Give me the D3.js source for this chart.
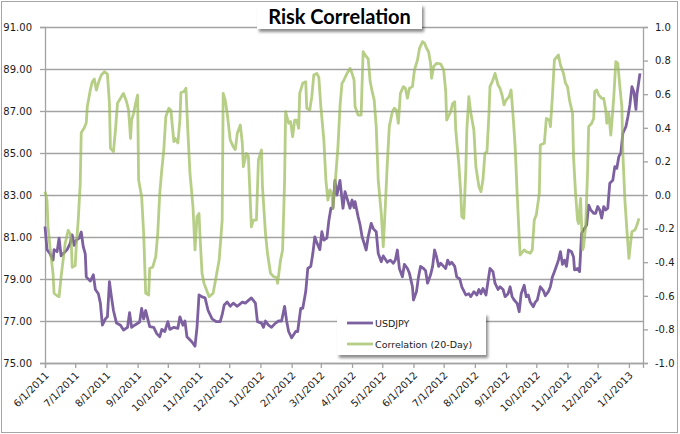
<!DOCTYPE html>
<html><head><meta charset="utf-8">
<script src="https://cdn.jsdelivr.net/npm/d3@7"></script>
<style>html,body{margin:0;padding:0;background:#fff}svg{display:block}</style>
</head><body>
<svg id="chart" width="680" height="434"></svg>
<script>
const title = "Risk Correlation";
const seriesNames = ["USDJPY", "Correlation (20-Day)"];
const xStart = "2011-06-01", xEnd = "2013-01-15";
const leftTicks = [75, 77, 79, 81, 83, 85, 87, 89, 91];
const rightTicks = [-1.0, -0.8, -0.6, -0.4, -0.2, 0.0, 0.2, 0.4, 0.6, 0.8, 1.0];

const usdDates = [
"2011-06-01","2011-06-03","2011-06-06","2011-06-09","2011-06-10","2011-06-13","2011-06-15","2011-06-17","2011-06-19","2011-06-23","2011-06-26","2011-06-28","2011-06-30",
"2011-07-02","2011-07-05","2011-07-07","2011-07-09","2011-07-11","2011-07-12","2011-07-16","2011-07-19","2011-07-21","2011-07-24","2011-07-26","2011-07-28","2011-07-31",
"2011-08-02","2011-08-04","2011-08-06","2011-08-08","2011-08-11","2011-08-15","2011-08-18","2011-08-22","2011-08-24","2011-08-26","2011-08-29",
"2011-09-03","2011-09-05","2011-09-07","2011-09-09","2011-09-13","2011-09-17","2011-09-20","2011-09-23","2011-09-25","2011-09-28",
"2011-10-01","2011-10-03","2011-10-07","2011-10-11","2011-10-13","2011-10-16","2011-10-18","2011-10-20","2011-10-25","2011-10-28","2011-10-30",
"2011-11-01","2011-11-04","2011-11-07","2011-11-10","2011-11-14","2011-11-18","2011-11-22","2011-11-24","2011-11-26","2011-11-29",
"2011-12-02","2011-12-05","2011-12-09","2011-12-14","2011-12-17","2011-12-23","2011-12-27","2011-12-29",
"2012-01-02","2012-01-04","2012-01-06","2012-01-09","2012-01-12","2012-01-16","2012-01-19","2012-01-22","2012-01-25","2012-01-27","2012-01-29",
"2012-02-01","2012-02-05","2012-02-07","2012-02-10","2012-02-12","2012-02-15","2012-02-17","2012-02-20","2012-02-22","2012-02-24","2012-02-26","2012-02-29",
"2012-03-02","2012-03-04","2012-03-07","2012-03-09","2012-03-11","2012-03-13","2012-03-15","2012-03-17","2012-03-20","2012-03-23","2012-03-25","2012-03-28","2012-03-30",
"2012-04-01","2012-04-03","2012-04-04","2012-04-07","2012-04-09","2012-04-11","2012-04-13","2012-04-15","2012-04-17","2012-04-20","2012-04-22","2012-04-25","2012-04-27","2012-04-30",
"2012-05-02","2012-05-06","2012-05-09","2012-05-12","2012-05-14","2012-05-16","2012-05-18","2012-05-21","2012-05-23","2012-05-26","2012-05-28","2012-05-31",
"2012-06-01","2012-06-04","2012-06-06","2012-06-08","2012-06-11","2012-06-13","2012-06-15","2012-06-18","2012-06-20","2012-06-22","2012-06-24","2012-06-26","2012-06-28",
"2012-07-01","2012-07-03","2012-07-05","2012-07-07","2012-07-09","2012-07-12","2012-07-14","2012-07-17","2012-07-19","2012-07-23","2012-07-26","2012-07-28","2012-07-31",
"2012-08-03","2012-08-05","2012-08-07","2012-08-09","2012-08-12","2012-08-14","2012-08-16","2012-08-19","2012-08-21","2012-08-24","2012-08-26","2012-08-29","2012-08-31",
"2012-09-03","2012-09-05","2012-09-07","2012-09-09","2012-09-12","2012-09-14","2012-09-16","2012-09-19","2012-09-21","2012-09-23","2012-09-25","2012-09-28","2012-09-30",
"2012-10-02","2012-10-05","2012-10-08","2012-10-10","2012-10-13","2012-10-15","2012-10-17","2012-10-19","2012-10-22","2012-10-23","2012-10-25","2012-10-27","2012-10-29","2012-10-31",
"2012-11-02","2012-11-05","2012-11-07","2012-11-08","2012-11-11","2012-11-13","2012-11-15","2012-11-17","2012-11-20","2012-11-22","2012-11-24","2012-11-27","2012-11-29",
"2012-12-01","2012-12-03","2012-12-05","2012-12-07","2012-12-09","2012-12-11","2012-12-13","2012-12-16","2012-12-18","2012-12-20","2012-12-22","2012-12-24","2012-12-26","2012-12-29","2012-12-31",
"2013-01-02","2013-01-04","2013-01-06","2013-01-08","2013-01-09","2013-01-12"];
const usdjpy = [
81.5,80.4,80.2,79.9,80.4,80.3,80.95,80.1,80.2,80.4,80.7,81.1,80.6,
80.85,80.95,81.24,80.54,80.2,79.1,78.9,79.2,78.5,78.3,77.85,76.8,77.1,
77.2,78.87,78.15,77.5,76.9,76.8,76.57,76.7,77.4,76.7,76.8,
76.95,77.6,77.1,77.5,76.73,76.7,76.4,76.25,76.6,76.5,
76.97,76.6,76.7,76.65,77.2,76.8,77.0,76.25,76.0,75.8,76.7,
78.24,78.15,78.1,77.5,77.1,76.97,76.97,77.3,77.76,77.9,
77.7,77.85,77.7,77.9,77.85,78.1,77.85,76.97,
76.9,76.7,77.0,76.8,76.7,76.9,77.0,77.0,77.7,77.0,76.5,
76.2,76.5,76.5,77.6,77.6,78.4,79.5,79.6,80.2,81.0,80.73,80.4,
81.25,80.85,80.95,81.8,82.37,82.37,83.7,83.0,83.7,82.37,83.16,82.68,82.37,
82.76,82.4,82.68,81.97,81.57,81.0,80.7,80.38,81.0,81.65,81.4,81.25,80.22,79.82,
80.1,79.8,79.9,79.75,79.9,80.38,79.5,79.1,79.7,79.5,79.27,78.63,
78.0,78.4,79.1,79.6,79.5,79.4,78.8,79.2,79.6,80.38,80.05,79.6,79.75,
79.6,79.5,79.9,79.7,79.8,79.6,79.1,79.0,78.63,78.24,78.3,78.16,78.4,
78.24,78.5,78.3,78.55,78.24,78.87,79.5,79.35,78.8,78.5,78.63,78.5,78.16,
78.3,78.63,78.16,78.0,77.84,77.44,78.3,78.7,78.16,78.24,77.9,77.68,77.9,
78.0,78.63,78.45,78.2,78.4,78.63,79.1,79.35,79.75,79.9,80.3,79.7,79.9,79.6,
80.38,80.3,80.05,79.43,79.5,79.35,81.17,81.33,81.57,82.52,82.29,82.13,82.13,
82.45,82.29,81.9,82.45,82.29,82.37,83.56,83.7,84.35,84.27,84.83,85.0,85.94,86.25,86.73,
87.3,88.16,87.9,87.08,87.8,88.79];

const corrDates = [
"2011-06-01","2011-06-03","2011-06-04","2011-06-06","2011-06-09","2011-06-10","2011-06-13","2011-06-15","2011-06-17","2011-06-19","2011-06-21","2011-06-24","2011-06-26","2011-06-27","2011-06-28",
"2011-07-01","2011-07-02","2011-07-04","2011-07-06","2011-07-07","2011-07-10","2011-07-12","2011-07-13","2011-07-16","2011-07-18","2011-07-20","2011-07-22","2011-07-25","2011-07-27","2011-07-30",
"2011-08-02","2011-08-04","2011-08-05","2011-08-08","2011-08-10","2011-08-12","2011-08-15","2011-08-18","2011-08-21","2011-08-23","2011-08-25","2011-08-26","2011-08-28","2011-08-30",
"2011-09-01","2011-09-02","2011-09-05","2011-09-07","2011-09-09","2011-09-12","2011-09-13","2011-09-16","2011-09-19","2011-09-21","2011-09-23","2011-09-25","2011-09-27","2011-09-29",
"2011-10-02","2011-10-04","2011-10-07","2011-10-08","2011-10-11","2011-10-13","2011-10-14","2011-10-17","2011-10-19","2011-10-21","2011-10-23","2011-10-26","2011-10-28","2011-10-30",
"2011-11-01","2011-11-02","2011-11-04","2011-11-06","2011-11-09","2011-11-11","2011-11-15","2011-11-18","2011-11-21","2011-11-24","2011-11-25","2011-11-27","2011-11-29",
"2011-12-02","2011-12-05","2011-12-07","2011-12-09","2011-12-12","2011-12-14","2011-12-15","2011-12-18","2011-12-20","2011-12-23","2011-12-25","2011-12-28","2011-12-30",
"2012-01-02","2012-01-03","2012-01-06","2012-01-08","2012-01-11","2012-01-14","2012-01-17","2012-01-18","2012-01-21","2012-01-23","2012-01-25","2012-01-26","2012-01-29","2012-01-31",
"2012-02-02","2012-02-04","2012-02-06","2012-02-08","2012-02-09","2012-02-12","2012-02-15","2012-02-16","2012-02-19","2012-02-21","2012-02-23","2012-02-26","2012-02-28",
"2012-03-01","2012-03-04","2012-03-06","2012-03-08","2012-03-10","2012-03-12","2012-03-13","2012-03-15","2012-03-18","2012-03-20","2012-03-22","2012-03-24","2012-03-27","2012-03-30",
"2012-04-01","2012-04-03","2012-04-04","2012-04-07","2012-04-10","2012-04-12","2012-04-14","2012-04-17","2012-04-19","2012-04-21","2012-04-23","2012-04-25","2012-04-27","2012-04-30",
"2012-05-02","2012-05-04","2012-05-06","2012-05-08","2012-05-11","2012-05-13","2012-05-15","2012-05-17","2012-05-19","2012-05-22","2012-05-24","2012-05-26","2012-05-28","2012-05-31",
"2012-06-02","2012-06-05","2012-06-07","2012-06-10","2012-06-12","2012-06-14","2012-06-16","2012-06-18","2012-06-19","2012-06-21","2012-06-24","2012-06-28",
"2012-07-01","2012-07-03","2012-07-04","2012-07-08","2012-07-10","2012-07-12","2012-07-13","2012-07-16","2012-07-18","2012-07-19","2012-07-21","2012-07-23","2012-07-24","2012-07-26","2012-07-28","2012-07-31",
"2012-08-02","2012-08-05","2012-08-07","2012-08-09","2012-08-11","2012-08-13","2012-08-15","2012-08-16","2012-08-19","2012-08-21","2012-08-24","2012-08-26","2012-08-28","2012-08-30",
"2012-09-01","2012-09-04","2012-09-06","2012-09-08","2012-09-10","2012-09-12","2012-09-14","2012-09-15","2012-09-19","2012-09-21","2012-09-25","2012-09-27","2012-09-29",
"2012-10-01","2012-10-04","2012-10-05","2012-10-09","2012-10-11","2012-10-14","2012-10-15","2012-10-17","2012-10-19","2012-10-22","2012-10-23","2012-10-25","2012-10-28","2012-10-30",
"2012-11-01","2012-11-03","2012-11-06","2012-11-07","2012-11-09","2012-11-11","2012-11-12","2012-11-14","2012-11-16","2012-11-17","2012-11-19","2012-11-21","2012-11-22","2012-11-25","2012-11-27","2012-11-28","2012-11-30",
"2012-12-02","2012-12-05","2012-12-07","2012-12-09","2012-12-10","2012-12-12","2012-12-14","2012-12-15","2012-12-17","2012-12-19","2012-12-21","2012-12-23","2012-12-25","2012-12-26","2012-12-28","2012-12-30",
"2013-01-01","2013-01-03","2013-01-04","2013-01-07","2013-01-09","2013-01-11"];
const correlation = [
0.02,-0.03,-0.19,-0.31,-0.47,-0.585,-0.60,-0.605,-0.486,-0.387,-0.29,-0.21,-0.23,-0.27,-0.43,
-0.42,-0.31,-0.15,0.07,0.37,0.40,0.43,0.525,0.625,0.675,0.69,0.625,0.685,0.714,0.734,
0.72,0.546,0.278,0.258,0.387,0.546,0.576,0.605,0.555,0.506,0.337,0.446,0.486,0.546,
0.595,0.089,-0.01,-0.228,-0.585,-0.595,-0.436,-0.43,-0.367,-0.228,0.01,0.149,0.268,0.466,
0.516,0.506,0.318,0.337,0.31,0.446,0.61,0.615,0.635,0.367,0.129,-0.07,-0.327,-0.129,
-0.11,-0.25,-0.466,-0.526,-0.575,-0.605,-0.585,-0.486,-0.387,-0.149,0.605,0.565,0.486,
0.327,0.288,0.27,0.367,0.417,0.308,0.168,0.248,0.23,-0.19,-0.149,-0.149,0.208,
0.268,0.05,-0.228,-0.347,-0.466,-0.486,-0.49,-0.526,-0.387,-0.327,0.089,0.496,0.427,0.437,
0.347,0.446,0.446,0.397,0.605,0.665,0.675,0.516,0.506,0.585,0.714,0.724,0.70,
0.526,0.327,0.089,-0.03,0.03,0.01,-0.079,0.05,0.288,0.526,0.665,0.685,0.724,0.754,
0.724,0.685,0.526,0.476,0.476,0.853,0.833,0.81,0.675,0.615,0.565,0.407,0.089,-0.109,
-0.308,-0.07,0.188,0.407,0.496,0.516,0.506,0.427,0.605,0.645,0.635,0.576,0.635,0.645,
0.744,0.804,0.873,0.913,0.903,0.873,0.853,0.784,0.695,0.764,0.784,0.78,
0.745,0.62,0.446,0.496,0.546,0.555,0.387,0.188,0.01,-0.129,-0.139,0.149,0.387,0.585,0.486,0.387,
0.168,0.05,0.02,0.089,0.248,0.258,0.486,0.645,0.685,0.724,0.655,0.635,0.595,0.536,
0.565,0.585,0.625,0.466,0.288,0.01,-0.248,-0.357,-0.327,-0.337,-0.347,-0.327,-0.149,
-0.119,0.01,0.298,0.308,0.456,0.446,0.407,0.585,0.804,0.827,0.833,0.774,0.724,0.665,
0.645,0.565,0.486,0.228,0.01,-0.149,-0.17,-0.02,-0.327,-0.307,-0.19,0.149,0.407,0.427,0.456,0.615,0.625,
0.595,0.575,0.575,0.506,0.427,0.486,0.357,0.427,0.585,0.794,0.784,0.645,0.526,0.248,-0.03,-0.208,
-0.377,-0.268,-0.218,-0.208,-0.179,-0.139];

const parse = d3.timeParse("%Y-%m-%d");
const usdData = usdDates.map((d, i) => ({ date: parse(d), value: usdjpy[i] }));
const corrData = corrDates.map((d, i) => ({ date: parse(d), value: correlation[i] }));

const P = { left: 45, right: 643, top: 27, bottom: 363 };
const x = d3.scaleTime().domain([parse(xStart), parse(xEnd)]).range([P.left, P.right]);
const yL = d3.scaleLinear().domain([75, 91]).range([P.bottom, P.top]);
const yR = d3.scaleLinear().domain([-1, 1]).range([P.bottom, P.top]);

const svg = d3.select("#chart");
const defs = svg.append("defs");
const f = defs.append("filter").attr("id", "shadow").attr("x", "-10%").attr("y", "-20%").attr("width", "130%").attr("height", "160%");
f.append("feDropShadow").attr("dx", 2).attr("dy", 3).attr("stdDeviation", 1.6).attr("flood-color", "#000").attr("flood-opacity", 0.45);

svg.append("rect").attr("x", 1.5).attr("y", 1.5).attr("width", 676).attr("height", 431)
  .attr("fill", "#fff").attr("stroke", "#a6a6a6").attr("stroke-width", 1);

const axisFont = "'DejaVu Sans', Verdana, sans-serif";
const gridColor = "#a3a3a3";

// gridlines
svg.append("g").attr("transform", `translate(${P.left},0)`)
  .call(d3.axisLeft(yL).tickValues(leftTicks).tickSize(-(P.right - P.left)).tickFormat(""))
  .call(g => g.select(".domain").remove())
  .call(g => g.selectAll("line").attr("stroke", gridColor).attr("stroke-width", 1.3));

// left axis
svg.append("g").attr("transform", `translate(${P.left},0)`)
  .call(d3.axisLeft(yL).tickValues(leftTicks).tickSize(5).tickPadding(8).tickFormat(d3.format(".2f")))
  .call(g => g.select(".domain").attr("stroke", gridColor).attr("stroke-width", 1.3))
  .call(g => g.selectAll("line").attr("stroke", gridColor).attr("stroke-width", 1.3))
  .call(g => g.selectAll("text").attr("font-family", axisFont).attr("font-size", 10).attr("fill", "#1a1a1a"));

// right axis
svg.append("g").attr("transform", `translate(${P.right},0)`)
  .call(d3.axisRight(yR).tickValues(rightTicks).tickSize(5).tickPadding(7).tickFormat(d => d.toFixed(1)))
  .call(g => g.select(".domain").attr("stroke", gridColor).attr("stroke-width", 1.3))
  .call(g => g.selectAll("line").attr("stroke", gridColor).attr("stroke-width", 1.3))
  .call(g => g.selectAll("text").attr("font-family", axisFont).attr("font-size", 10).attr("fill", "#1a1a1a"));

// bottom axis
const fmtX = d3.timeFormat("%-m/%-d/%Y");
const xAxis = svg.append("g").attr("transform", `translate(0,${P.bottom})`)
  .call(d3.axisBottom(x).ticks(d3.timeMonth.every(1)).tickSize(5).tickFormat(fmtX))
  .call(g => g.select(".domain").attr("stroke", gridColor).attr("stroke-width", 1.3))
  .call(g => g.selectAll("line").attr("stroke", gridColor).attr("stroke-width", 1.3));
xAxis.selectAll("text")
  .attr("font-family", axisFont).attr("font-size", 10).attr("fill", "#1a1a1a")
  .attr("text-anchor", "end").attr("dy", null).attr("y", null)
  .attr("transform", "translate(4,13) rotate(-45)");

// lines
const lineL = d3.line().x(d => x(d.date)).y(d => yL(d.value));
const lineR = d3.line().x(d => x(d.date)).y(d => yR(d.value));
const purple = "#7d60a0", green = "#9bbb59";
svg.append("path").datum(usdData).attr("d", lineL).attr("fill", "none")
  .attr("stroke", purple).attr("stroke-width", 2.8).attr("stroke-linejoin", "round");
svg.append("path").datum(corrData).attr("d", lineR).attr("fill", "none")
  .attr("stroke", green).attr("stroke-opacity", 0.72).attr("stroke-width", 2.8).attr("stroke-linejoin", "round");

// legend
const lg = svg.append("g");
lg.append("rect").attr("x", 337).attr("y", 313).attr("width", 149).attr("height", 42)
  .attr("fill", "#fff").attr("filter", "url(#shadow)");
const legendColors = [purple, green];
const legendOpac = [1, 0.72];
seriesNames.forEach((name, i) => {
  const yy = 323 + i * 21;
  lg.append("line").attr("x1", 347).attr("x2", 373).attr("y1", yy).attr("y2", yy)
    .attr("stroke", legendColors[i]).attr("stroke-opacity", legendOpac[i]).attr("stroke-width", 2.8);
  lg.append("text").attr("x", 375).attr("y", yy + 3.5).text(name)
    .attr("font-family", axisFont).attr("font-size", 9.5).attr("fill", "#1a1a1a");
});

// title
const tg = svg.append("g");
tg.append("rect").attr("x", 257).attr("y", 4).attr("width", 165).attr("height", 25)
  .attr("fill", "#fff").attr("filter", "url(#shadow)");
tg.append("text").attr("x", 339.5).attr("y", 23.5).attr("text-anchor", "middle")
  .attr("font-family", "Lato, 'Open Sans', sans-serif").attr("font-weight", "bold").attr("font-size", 20)
  .attr("fill", "#000").text(title);
</script>
</body></html>
